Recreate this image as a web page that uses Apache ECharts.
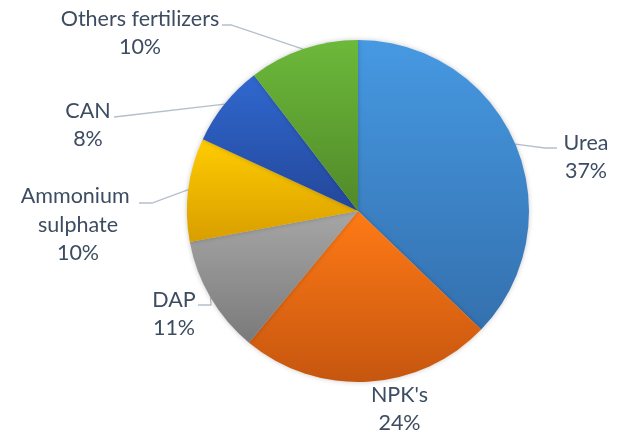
<!DOCTYPE html>
<html>
<head>
<meta charset="utf-8">
<script src="https://cdn.jsdelivr.net/npm/echarts@6/dist/echarts.min.js"></script>
<style>html,body{margin:0;padding:0;background:#fff;}#c{width:621px;height:432px;}</style>
</head>
<body>
<div id="c"></div>
<script>
const categories = ['Urea', "NPK's", 'DAP', 'Ammonium sulphate', 'CAN', 'Others fertilizers'];
const values = [37.2, 23.8, 11.1, 9.8, 7.7, 10.4];

const gradTop = ['#4699e2', '#ff7a16', '#a6a6a6', '#ffcc00', '#3068cf', '#6cb93a'];
const gradBottom = ['#3470ae', '#c6560f', '#7a7a7a', '#d89e00', '#23479a', '#518929'];

// label placement (center of text block) and leader line (knee, end at text)
const labelPos = [
  {x: 586, y: 157, knee: [545, 148], end: [557, 148]},
  {x: 399.5, y: 409, knee: null, end: null},
  {x: 174, y: 314, knee: [211, 305], end: [198, 305]},
  {x: 78, y: 225, knee: [152, 203], end: [139, 203]},
  {x: 88, y: 125, knee: [123, 116], end: [114, 117]},
  {x: 140, y: 33, knee: [231, 25], end: [222, 25]}
];

const chart = echarts.init(document.getElementById('c'), null, {renderer: 'canvas'});
const data = categories.map((n, i) => {
  const item = {
    name: n,
    value: values[i],
    itemStyle: {
      color: new echarts.graphic.LinearGradient(0, 0, 0, 1, [
        {offset: 0, color: gradTop[i]},
        {offset: 1, color: gradBottom[i]}
      ])
    }
  };
  if (!labelPos[i].end) item.labelLine = {show: false};
  if (n === 'Ammonium sulphate') item.label = {width: 118, overflow: 'break'};
  return item;
});

chart.setOption({
  backgroundColor: '#ffffff',
  animation: false,
  series: [{
    type: 'pie',
    center: [358, 211],
    radius: 171,
    startAngle: 90,
    clockwise: true,
    avoidLabelOverlap: false,
    percentPrecision: 0,
    data: data,
    itemStyle: {
      borderWidth: 0,
      shadowBlur: 5,
      shadowColor: 'rgba(0,0,0,0.22)'
    },
    label: {
      show: true,
      position: 'outside',
      formatter: '{b}\n{d}%',
      fontFamily: 'Lato',
      fontSize: 21.5,
      lineHeight: 28.5,
      color: '#3d4c61',
      align: 'center'
    },
    labelLine: {
      show: true,
      lineStyle: {color: '#b4bfcc', width: 1.3}
    },
    emphasis: {disabled: true},
    labelLayout: function (params) {
      const p = labelPos[params.dataIndex];
      const res = {x: p.x, y: p.y, align: 'center', verticalAlign: 'middle'};
      if (p.end && params.labelLinePoints) {
        res.labelLinePoints = [params.labelLinePoints[0], p.knee, p.end];
      }
      return res;
    }
  }]
});
</script>
</body>
</html>
